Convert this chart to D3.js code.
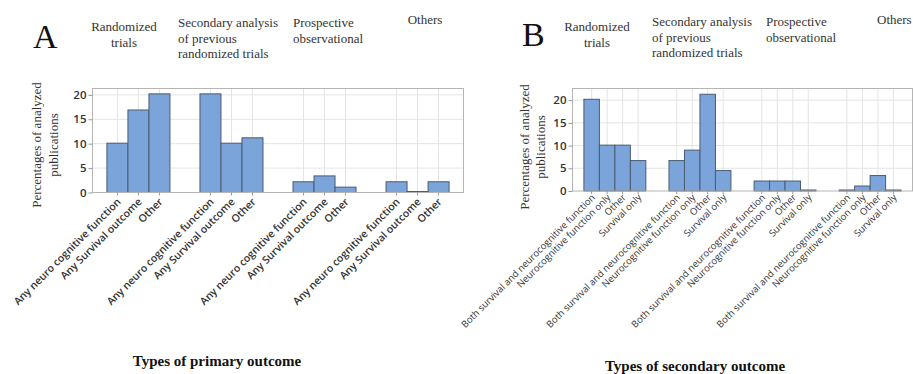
<!DOCTYPE html>
<html><head><meta charset="utf-8">
<script src="https://cdn.jsdelivr.net/npm/d3@7"></script>
<style>
body{margin:0;background:#fff;}
svg{display:block;}
.serif{font-family:'Liberation Serif','Times New Roman',serif;}
.sans{font-family:'Open Sans','Noto Sans',sans-serif;}
</style></head>
<body>
<svg id="c" width="913" height="374"></svg>
<script>
// ---------- DATA ----------
const studyTypes = ["Randomized trials", "Secondary analysis of previous randomized trials", "Prospective observational", "Others"];
const primaryOutcomes = ["Any neuro cognitive function", "Any Survival outcome", "Other"];
const primaryValues = [
  [10.1, 16.9, 20.2],
  [20.2, 10.1, 11.2],
  [2.2, 3.4, 1.1],
  [2.2, 0, 2.2]
];
const secondaryOutcomes = ["Both survival and neurocognitive function", "Neurocognitive function only", "Other", "Survival only"];
const secondaryValues = [
  [20.2, 10.1, 10.1, 6.7],
  [6.7, 9.0, 21.3, 4.5],
  [2.2, 2.2, 2.2, 0],
  [0, 1.1, 3.4, 0]
];
const yTicks = [0, 5, 10, 15, 20];

// ---------- DRAW ----------
const svg = d3.select("#c");

function panel(o) {
  const g = svg.append("g");
  const x0 = d3.scaleBand().domain(d3.range(o.values.length)).range([o.left, o.right])
    .paddingInner(o.pInner).paddingOuter(o.pOuter);
  const x1 = d3.scaleBand().domain(d3.range(o.cats.length)).range([0, x0.bandwidth()]).padding(0);
  const y = d3.scaleLinear().domain([0, o.yMax]).range([o.bottom, o.top]);

  g.append("rect").attr("x", o.left).attr("y", o.top).attr("width", o.right - o.left)
    .attr("height", o.bottom - o.top).attr("fill", "#fff");

  g.selectAll(".hg").data(yTicks.filter(d => d > 0)).enter().append("line")
    .attr("x1", o.left).attr("x2", o.right).attr("y1", d => y(d)).attr("y2", d => y(d))
    .attr("stroke", "#e4e4e4").attr("stroke-width", 1);

  const bars = [];
  o.values.forEach((grp, gi) => grp.forEach((v, ci) => bars.push({gi, ci, v})));
  const cx = d => x0(d.gi) + x1(d.ci) + x1.bandwidth() / 2;

  g.selectAll(".vg").data(bars).enter().append("line")
    .attr("x1", cx).attr("x2", cx).attr("y1", o.top).attr("y2", o.bottom)
    .attr("stroke", "#e4e4e4").attr("stroke-width", 1);

  g.selectAll(".bar").data(bars).enter().append("rect")
    .attr("x", d => x0(d.gi) + x1(d.ci))
    .attr("width", x1.bandwidth())
    .attr("y", d => Math.min(y(d.v), o.bottom - 1))
    .attr("height", d => Math.max(o.bottom - y(d.v), 1))
    .attr("fill", "#7ba5da").attr("stroke", "#4b5b70").attr("stroke-width", 1);

  g.append("rect").attr("x", o.left).attr("y", o.top).attr("width", o.right - o.left)
    .attr("height", o.bottom - o.top).attr("fill", "none").attr("stroke", "#b5b5b5").attr("stroke-width", 1);

  const ya = g.append("g").attr("transform", `translate(${o.left},0)`)
    .call(d3.axisLeft(y).tickValues(yTicks).tickSize(4).tickPadding(2));
  ya.attr("font-family", null).attr("font-size", null);
  ya.select(".domain").remove();
  ya.selectAll("line").attr("stroke", "#999");
  ya.selectAll("text").attr("class", "sans").attr("font-weight", 600)
    .attr("font-size", 11.5).attr("fill", "#333");

  g.selectAll(".xt").data(bars).enter().append("line")
    .attr("x1", cx).attr("x2", cx).attr("y1", o.bottom).attr("y2", o.bottom + 3)
    .attr("stroke", "#999");

  g.selectAll(".xl").data(bars).enter().append("text")
    .attr("class", "sans")
    .attr("transform", d => `translate(${cx(d) + o.lblDx},${o.bottom + o.lblDy}) rotate(-45)`)
    .attr("text-anchor", "end")
    .attr("font-weight", o.lblWeight).attr("font-size", o.lblSize)
    .attr("fill", "#333")
    .text(d => o.cats[d.ci]);

  const yt = g.append("text").attr("class", "serif").attr("font-size", 13).attr("fill", "#333")
    .attr("text-anchor", "middle")
    .attr("transform", `translate(${o.ytX},${o.ytY}) rotate(-90)`);
  yt.append("tspan").attr("x", 0).attr("y", 0).text("Percentages of analyzed");
  yt.append("tspan").attr("x", 0).attr("y", o.ytGap).text("publications");

  g.append("text").attr("class", "serif").attr("x", o.letterX).attr("y", o.letterY)
    .attr("font-size", 34).attr("fill", "#111").text(o.letter);

  o.headers.forEach(h => {
    const t = g.append("text").attr("class", "serif").attr("font-size", 13).attr("fill", "#333")
      .attr("text-anchor", h.anchor);
    h.lines.forEach((ln, i) => t.append("tspan").attr("x", h.x).attr("y", h.y + i * 15.5).text(ln));
  });

  g.append("text").attr("class", "serif").attr("x", o.titleX).attr("y", o.titleY).attr("text-anchor", "middle")
    .attr("font-weight", "bold").attr("font-size", 15).attr("fill", "#111")
    .text(o.title);
}

panel({
  values: primaryValues, cats: primaryOutcomes,
  left: 92.5, right: 463.5, top: 88.5, bottom: 192.5, yMax: 21.3,
  pInner: 0.3226, pOuter: 0.155,
  lblDx: 4, lblDy: 10, lblSize: 10.5, lblWeight: 600,
  ytX: 41, ytY: 145, ytGap: 17,
  letter: "A", letterX: 33, letterY: 48,
  headers: [
    {lines: ["Randomized", "trials"], x: 124, y: 31, anchor: "middle"},
    {lines: ["Secondary analysis", "of previous", "randomized trials"], x: 178, y: 27, anchor: "start"},
    {lines: ["Prospective", "observational"], x: 293, y: 27, anchor: "start"},
    {lines: ["Others"], x: 425, y: 24, anchor: "middle"}
  ],
  title: "Types of primary outcome", titleX: 217, titleY: 366
});

panel({
  values: secondaryValues, cats: secondaryOutcomes,
  left: 572.5, right: 912.5, top: 88.5, bottom: 191, yMax: 22.57,
  pInner: 0.272, pOuter: 0.134,
  lblDx: 4, lblDy: 7, lblSize: 9.5, lblWeight: 400,
  ytX: 529, ytY: 147, ytGap: 16,
  letter: "B", letterX: 522, letterY: 46,
  headers: [
    {lines: ["Randomized", "trials"], x: 597, y: 31, anchor: "middle"},
    {lines: ["Secondary analysis", "of previous", "randomized trials"], x: 652, y: 26, anchor: "start"},
    {lines: ["Prospective", "observational"], x: 766, y: 26, anchor: "start"},
    {lines: ["Others"], x: 877, y: 24, anchor: "start"}
  ],
  title: "Types of secondary outcome", titleX: 695, titleY: 371
});
</script>
</body></html>
